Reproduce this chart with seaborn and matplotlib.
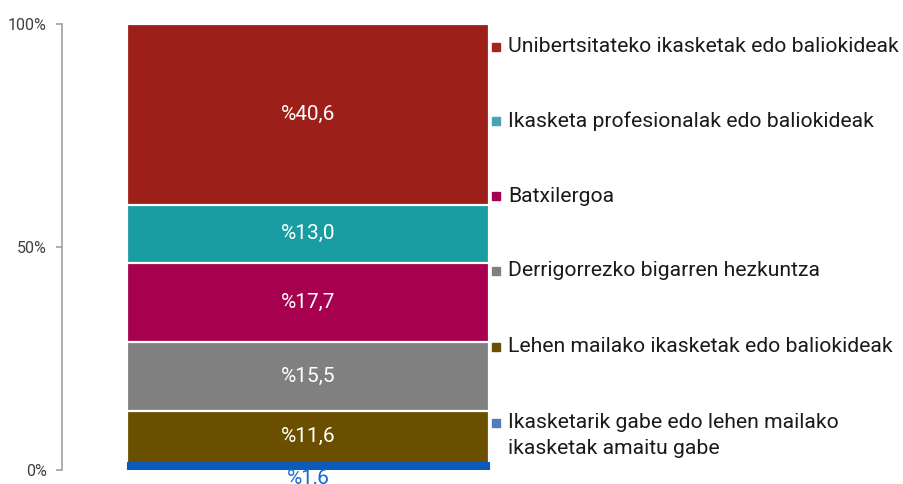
import numpy as np
import pandas as pd
import matplotlib
matplotlib.use("Agg")
import matplotlib.pyplot as plt
import seaborn as sb

# datos: de abajo hacia arriba
categories = ["Ikasketarik gabe edo lehen mailako\nikasketak amaitu gabe",
              "Lehen mailako ikasketak edo baliokideak",
              "Derrigorrezko bigarren hezkuntza",
              "Batxilergoa",
              "Ikasketa profesionalak edo baliokideak",
              "Unibertsitateko ikasketak edo baliokideak"]
values = [1.6, 11.6, 15.5, 17.7, 13.0, 40.6]
bar_labels = ["%1,6", "%11,6", "%15,5", "%17,7", "%13,0", "%40,6"]
colors = ["#0A5BBA", "#6B4F00", "#808080", "#A6004E", "#1A9DA2", "#9D1F1A"]
legend_colors = ["#4F7FBA", "#6B4F00", "#808080", "#A6004E", "#4AA3BC", "#A52420"]

sb.set_style("white")
plt.rcParams['font.family'] = ['Roboto', 'DejaVu Sans']

fig = plt.figure(figsize=(9.04, 4.84), dpi=100)
ax = fig.add_axes([62 / 904, 14.5 / 484, 492 / 904, 445.5 / 484])

cum = np.cumsum(values)
# barras apiladas: se dibujan las acumuladas de arriba hacia abajo
for i in range(len(values) - 1, -1, -1):
    df = pd.DataFrame({"x": ["a"], "y": [cum[i]]})
    edge = colors[i] if i == 0 else "white"
    lw = 0.8 if i == 0 else 1.6
    sb.barplot(data=df, x="x", y="y", color=colors[i], saturation=1,
               edgecolor=edge, linewidth=lw, width=0.8, ax=ax)

for i, v in enumerate(values):
    if v < 5:
        ax.text(0, -1.9, bar_labels[i], ha="center", va="center",
                color="#1A6AD0", fontsize=15)
    else:
        ax.text(0, cum[i] - v / 2, bar_labels[i], ha="center", va="center",
                color="white", fontsize=15)

ax.set_xlim(-0.5436, 0.5436)
ax.set_ylim(0, 100)
ax.set_yticks([0, 50, 100])
ax.set_yticklabels(["0%", "50%", "100%"])
ax.set_xticks([])
ax.set_xlabel("")
ax.set_ylabel("")
for s in ["top", "right", "bottom"]:
    ax.spines[s].set_visible(False)
ax.spines["left"].set_color("#A0A0A0")
ax.spines["left"].set_linewidth(1.2)
ax.tick_params(axis="y", left=True, length=4, width=1.2, color="#A0A0A0",
               labelsize=11.5, labelcolor="#404040", pad=7)

# leyenda a mano (de arriba hacia abajo)
ys = [47, 121, 196, 271, 347, 423]
for k, y in enumerate(ys):
    i = len(categories) - 1 - k
    fig.patches.append(plt.Rectangle((492 / 904, (484 - y - 4) / 484), 8 / 904, 8 / 484,
                                     transform=fig.transFigure, color=legend_colors[i]))
    lines = categories[i].split("\n")
    for j, line in enumerate(lines):
        fig.text(508 / 904, (484 - y - j * 25) / 484, line, ha="left", va="center",
                 fontsize=15.2, color="#1A1A1A")

plt.savefig("out.png", dpi=100)
